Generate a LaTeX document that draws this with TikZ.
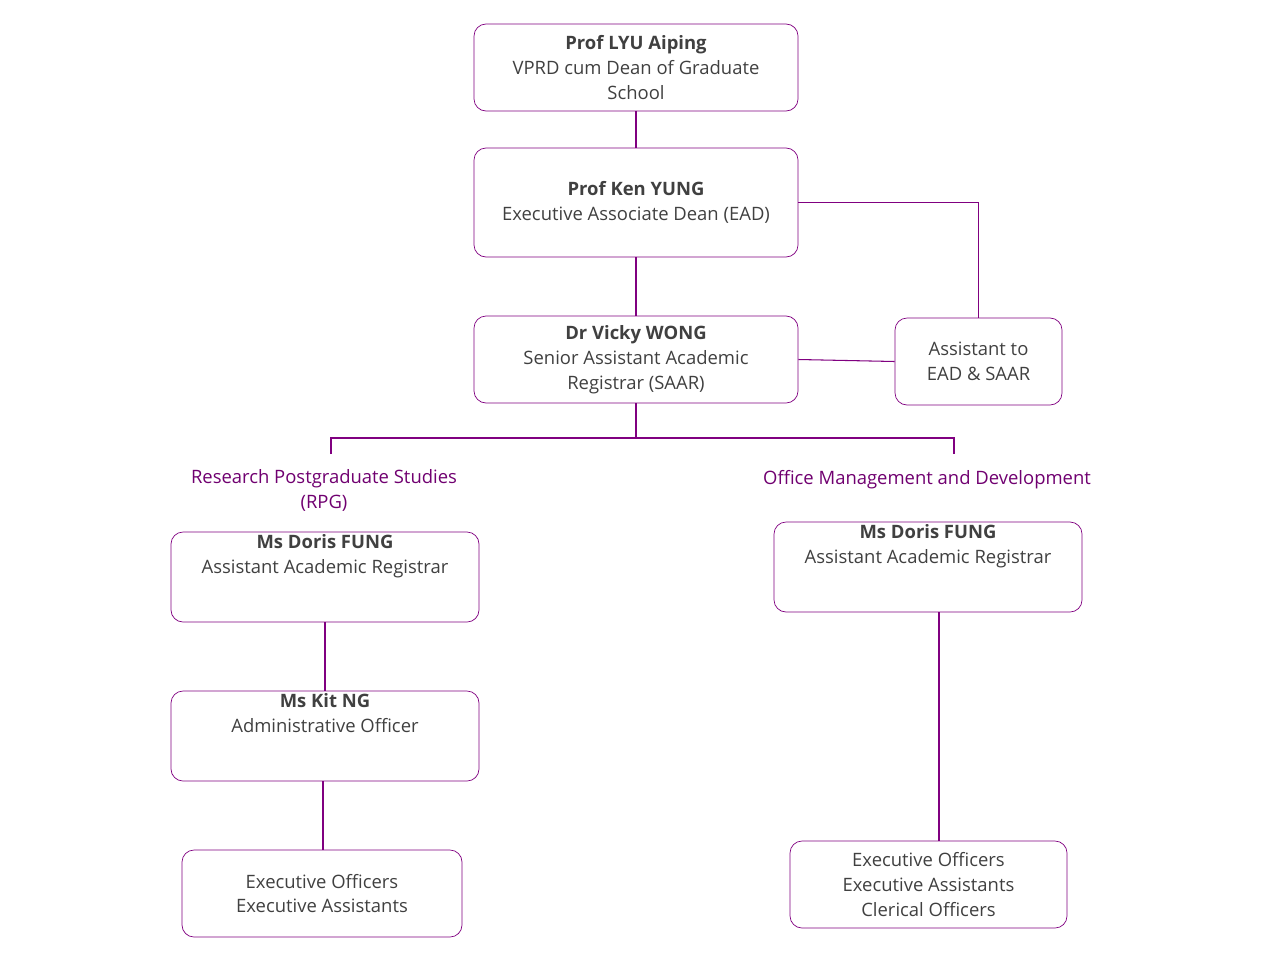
\documentclass[tikz,border=0pt]{standalone}
\usepackage{fontspec}
\setmainfont{Open Sans}
\begin{document}
\definecolor{pur}{RGB}{128,0,128}
\definecolor{txt}{RGB}{64,64,64}
\definecolor{lab}{RGB}{112,0,112}
\begin{tikzpicture}[x=0.02cm,y=-0.02cm,
 box/.style={draw=pur,rounded corners=0.24cm,align=center,text=txt,font=\fontsize{10.5}{14.2}\selectfont,inner sep=0pt},
 ln/.style={draw=pur,line width=0.6pt},
 lbl/.style={text=lab,align=center,font=\fontsize{10.5}{14.2}\selectfont}]
\useasboundingbox (0,0) rectangle (1280,960);
\node[box,minimum width=324*0.02cm,minimum height=87*0.02cm] (A) at (636,67.5) {\textbf{Prof LYU Aiping}\\VPRD cum Dean of Graduate\\School};
\node[box,minimum width=324*0.02cm,minimum height=109*0.02cm] (B) at (636,202.5) {\textbf{Prof Ken YUNG}\\Executive Associate Dean (EAD)};
\node[box,minimum width=324*0.02cm,minimum height=87*0.02cm] (C) at (636,359.5) {\textbf{Dr Vicky WONG}\\Senior Assistant Academic\\Registrar (SAAR)};
\node[box,minimum width=167*0.02cm,minimum height=87*0.02cm] (D) at (978.5,361.5) {Assistant to\\EAD \& SAAR};
\node[box,minimum width=308*0.02cm,minimum height=90*0.02cm] (E) at (325,577) {\textbf{Ms Doris FUNG}\\Assistant Academic Registrar\\[12pt]};
\node[box,minimum width=308*0.02cm,minimum height=90*0.02cm] (F) at (325,736) {\textbf{Ms Kit NG}\\Administrative Officer\\[12pt]};
\node[box,minimum width=280*0.02cm,minimum height=87*0.02cm] (G) at (322,893.5) {Executive Officers\\Executive Assistants};
\node[box,minimum width=308*0.02cm,minimum height=90*0.02cm] (H) at (928,567) {\textbf{Ms Doris FUNG}\\Assistant Academic Registrar\\[12pt]};
\node[box,minimum width=277*0.02cm,minimum height=87*0.02cm] (I) at (928.5,884.5) {Executive Officers\\Executive Assistants\\Clerical Officers};
\node[lbl] (L1) at (324,490) {Research Postgraduate Studies\\(RPG)};
\node[lbl] (L2) at (927,480) {Office Management and Development};
\coordinate (J) at (636,438);
\coordinate (JL) at (331,438);
\coordinate (JR) at (954,438);
\draw[ln] (A) -- (B);
\draw[ln] (B) -- (C);
\draw[ln] (B.east) -| (D.north);
\draw[ln] (C.east) -- (D.west);
\draw[ln] (C.south) -- (J);
\draw[ln] (331,454) -- (JL) -- (JR) -- (954,454);
\draw[ln] (E.south) -- (F.north);
\draw[ln] (F.south -| 323,0) -- (G.north -| 323,0);
\draw[ln] (H.south -| 939,0) -- (I.north -| 939,0);
\end{tikzpicture}
\end{document}
